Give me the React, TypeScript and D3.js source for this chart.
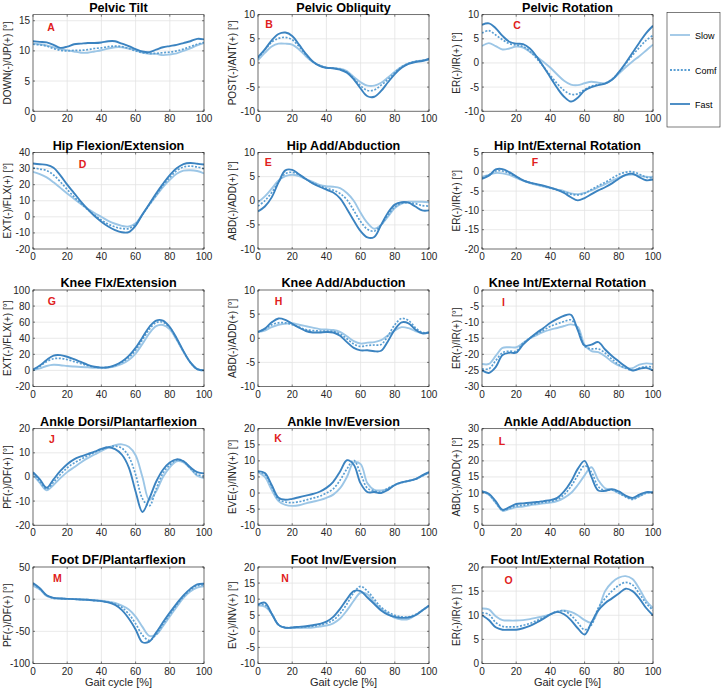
import React from "react";
import * as d3 from "d3";

const X = [0, 4, 8, 12, 16, 20, 24, 28, 32, 36, 40, 44, 48, 52, 56, 60, 64, 68, 72, 76, 80, 84, 88, 92, 96, 100];
const X_TICKS = [0, 20, 40, 60, 80, 100];
const LEGEND = ["Slow", "Comf", "Fast"];

// A Pelvic Tilt
const A_SLOW = [11.2, 11.1, 10.9, 10.6, 10.3, 10.1, 9.9, 9.7, 9.7, 9.9, 10.1, 10.4, 10.6, 10.6, 10.4, 10.1, 9.7, 9.5, 9.5, 9.3, 9.4, 9.6, 10.0, 10.4, 10.9, 11.3];
const A_COMF = [11.1, 11.0, 10.8, 10.4, 10.1, 10.0, 10.1, 10.1, 10.2, 10.4, 10.5, 10.7, 10.8, 10.7, 10.4, 10.0, 9.7, 9.6, 9.6, 9.7, 9.8, 10.0, 10.3, 10.7, 11.1, 11.4];
const A_FAST = [11.6, 11.5, 11.4, 11.0, 10.5, 10.7, 11.1, 11.2, 11.3, 11.3, 11.4, 11.6, 11.6, 11.2, 10.8, 10.3, 9.9, 9.8, 10.2, 10.6, 10.8, 11.0, 11.3, 11.6, 12.0, 11.9];
// B Pelvic Obliquity
const B_SLOW = [0.6, 2.1, 3.4, 4.0, 4.0, 3.8, 2.8, 1.4, 0.2, -0.5, -1.0, -1.1, -1.2, -1.7, -2.9, -4.0, -4.7, -4.7, -4.1, -3.0, -1.8, -0.8, -0.1, 0.3, 0.5, 0.6];
const B_COMF = [1.0, 2.7, 4.3, 5.1, 5.3, 4.8, 3.4, 1.7, 0.3, -0.5, -1.0, -1.1, -1.3, -1.9, -3.2, -4.7, -5.7, -5.6, -4.6, -3.4, -2.0, -0.8, -0.1, 0.3, 0.5, 0.7];
const B_FAST = [1.2, 2.8, 4.7, 6.0, 6.3, 5.6, 3.8, 1.9, 0.3, -0.6, -1.0, -1.1, -1.4, -2.0, -3.4, -5.3, -6.9, -7.0, -5.8, -4.0, -2.3, -1.0, -0.2, 0.2, 0.4, 0.9];
// C Pelvic Rotation
const C_SLOW = [3.5, 4.1, 3.5, 2.8, 3.0, 3.4, 3.2, 2.3, 1.3, 0.2, -1.0, -2.4, -3.7, -4.5, -4.6, -4.2, -3.9, -4.1, -4.2, -3.5, -2.2, -0.9, 0.3, 1.4, 2.6, 3.8];
const C_COMF = [6.2, 6.7, 5.8, 4.8, 4.0, 3.7, 3.4, 2.4, 0.9, -0.8, -2.6, -4.3, -5.7, -6.5, -6.4, -5.5, -4.8, -4.5, -4.2, -3.4, -2.0, -0.2, 1.6, 3.2, 4.7, 5.7];
const C_FAST = [7.9, 8.2, 7.2, 5.6, 4.4, 4.0, 3.9, 3.0, 1.3, -0.8, -3.0, -5.2, -7.0, -8.0, -7.2, -5.7, -5.0, -4.6, -4.3, -3.5, -1.9, 0.0, 2.1, 4.2, 6.2, 7.7];
// D Hip Flexion/Extension
const D_SLOW = [28, 26.5, 24.5, 21.5, 18, 14.5, 11.3, 8, 5, 2.4, 0, -2.5, -4.3, -5.6, -6, -4, 1.5, 7.5, 13, 18.5, 23, 26.8, 28.7, 29, 28.5, 27];
const D_COMF = [30.5, 29.7, 28.8, 26, 21.8, 17, 12.5, 8.3, 4.5, 1.2, -2, -4.5, -6.3, -7.3, -7.3, -4.5, 1.5, 7.5, 13.5, 19.5, 24.5, 28.7, 31, 31.5, 31, 30];
const D_FAST = [33.2, 32.7, 32.3, 30.5, 25.8, 20, 14.8, 9.5, 4.8, 0.5, -3, -6, -8.2, -9.6, -9.5, -5.5, 1.5, 8, 14.5, 20.5, 26, 30.2, 32.8, 33.5, 33, 32.5];
// E Hip Add/Abduction
const E_SLOW = [-0.3, 0.9, 2.5, 4.2, 5.1, 5.4, 5.1, 4.5, 3.9, 3.3, 3.0, 2.9, 2.6, 1.6, 0, -2.5, -4.6, -5.8, -5.0, -3.3, -1.5, -0.6, -0.2, -0.2, -0.2, -0.3];
const E_COMF = [-1.1, 0, 1.7, 3.9, 5.6, 5.9, 5.4, 4.5, 3.7, 3.1, 2.6, 2.2, 1.5, 0.2, -2, -4.3, -5.9, -6.3, -5, -3, -1.3, -0.5, -0.4, -0.6, -1, -1.1];
const E_FAST = [-2.2, -1.2, 0.7, 3.8, 6.3, 6.4, 5.5, 4.5, 3.6, 2.9, 2.3, 1.7, 0.5, -1.7, -4.1, -6.3, -7.6, -7.5, -5, -2.5, -0.8, -0.3, -0.4, -1.2, -2, -2];
// F Hip Int/External Rotation
const F_SLOW = [-1.3, -0.8, -0.3, -0.4, -0.8, -1.6, -2.3, -2.9, -3.4, -3.8, -4.2, -4.6, -5.0, -5.6, -5.8, -5.5, -4.8, -4.0, -3.2, -2.3, -1.5, -0.9, -0.7, -1.0, -1.3, -1.3];
const F_COMF = [-1.6, -0.8, 0.2, 0.2, -0.4, -1.3, -2.2, -2.8, -3.3, -3.7, -4.2, -4.7, -5.2, -5.8, -6.0, -5.6, -4.6, -3.6, -2.7, -1.7, -0.7, -0.1, 0.0, -0.6, -1.4, -1.6];
const F_FAST = [-1.8, -1.0, 0.6, 0.7, -0.1, -1.2, -2.2, -2.8, -3.2, -3.6, -4.1, -4.7, -5.5, -6.6, -7.4, -6.8, -5.8, -4.8, -4.0, -3.0, -1.8, -0.8, -0.5, -1.4, -2.2, -2.0];
// G Knee Flx/Extension
const G_SLOW = [0, 2.5, 5.5, 7, 6.5, 5.5, 4.8, 4.2, 3.8, 3.4, 3.2, 3.5, 5, 8, 13, 21, 33, 46, 55, 56.5, 51, 38, 23, 10, 2, 0];
const G_COMF = [0.5, 5, 11, 14.5, 15, 13.5, 11, 8.5, 6, 4.2, 3.5, 4, 6, 10, 16, 25, 38, 51, 59.5, 60, 53, 39, 23.5, 10, 1.5, 0];
const G_FAST = [1, 6, 13, 18.5, 19, 17, 14, 10.5, 7, 4.5, 3.5, 4, 6.5, 11, 18, 28, 41, 54, 62, 62, 54, 40, 24, 10, 1.5, 0];
// H Knee Add/Abduction
const H_SLOW = [1.3, 1.6, 2.3, 2.8, 3.0, 3.1, 2.8, 2.5, 2.2, 1.9, 1.8, 1.7, 1.3, 0.4, -0.6, -1.1, -0.9, -0.8, -0.4, 0.6, 1.6, 2.3, 2.1, 1.5, 1.1, 1.2];
const H_COMF = [1.3, 1.9, 2.8, 3.2, 3.2, 2.8, 2.3, 1.8, 1.6, 1.5, 1.5, 1.4, 0.9, -0.1, -1.2, -1.7, -1.5, -1.4, -1.3, 0.5, 2.8, 4.1, 3.7, 2.2, 1.2, 1.2];
const H_FAST = [1.3, 2.0, 3.3, 4.1, 3.8, 3.0, 2.2, 1.5, 1.2, 1.2, 1.3, 1.2, 0.5, -0.8, -2.0, -2.5, -2.5, -2.7, -2.6, -0.6, 1.8, 3.3, 3.1, 1.8, 1.0, 1.2];
// I Knee Int/External Rotation
const I_SLOW = [-23, -23, -20.5, -18, -17.8, -17.8, -16.5, -15, -14, -13, -12.3, -11.8, -11.2, -10.7, -11.5, -17, -19, -19.3, -20.6, -22.3, -23.5, -24.3, -24.3, -23.2, -22.8, -23];
const I_COMF = [-24.5, -24.5, -22, -19.5, -19, -19, -16.5, -15, -13.7, -12.5, -11.3, -10.5, -9.8, -9.3, -12, -17.5, -18.3, -18.3, -19.6, -21.5, -23.2, -24.3, -25, -24.3, -23.8, -24];
const I_FAST = [-25, -25.8, -24, -20.2, -19.5, -19.5, -17, -15, -13.3, -11.8, -10.2, -9, -8, -7.7, -12.5, -17.3, -17, -16.2, -18.5, -20.5, -22.2, -23.8, -25, -24.5, -24.2, -25];
// J Ankle Dorsi/Plantarflexion
const J_SLOW = [1, -2.5, -5.5, -3.3, -0.5, 2, 4, 6, 7.8, 9.3, 10.8, 12.2, 13.2, 13.5, 12.5, 9, 0, -9.5, -6, 0, 4, 6.5, 6, 3.5, 0.5, -0.5];
const J_COMF = [1.5, -2, -5, -2.2, 1, 3.8, 5.8, 7.3, 8.8, 10.2, 11.4, 12.4, 12.8, 11.9, 8.5, 1, -9, -12, -5, 1.5, 5, 7, 6.5, 3.5, 1, 0.5];
const J_FAST = [2, -1, -4.5, -1, 2.5, 5.3, 7.3, 8.5, 9.5, 10.5, 11.6, 12.3, 11.5, 9.2, 4, -6, -14.5, -9, -2, 3, 6, 7.3, 6.5, 4, 2, 1.5];
// K Ankle Inv/Eversion
const K_SLOW = [6.5, 5, 1, -2.5, -3.7, -4, -3.8, -3.2, -2.7, -2.2, -1.5, -0.5, 1.5, 5, 9.5, 9, 3, 1, 0.8, 1.3, 2.5, 3.3, 3.7, 4.3, 5.3, 6.3];
const K_COMF = [6.6, 5.8, 2, -2, -2.8, -3, -2.7, -2.2, -1.6, -1, 0, 1.3, 4, 7.5, 10.2, 6, 1.5, 0.7, 0.3, 1.5, 2.5, 3.2, 3.8, 4.3, 5.3, 6.5];
const K_FAST = [6.8, 6.2, 2.5, -1.5, -2.1, -1.8, -1.3, -0.8, -0.3, 0.4, 1.6, 3.5, 6.7, 10.2, 8.8, 3, 0.3, 0.3, 0, 1, 2.5, 3.3, 3.8, 4.3, 5.5, 6.5];
// L Ankle Add/Abduction
const L_SLOW = [10.5, 9.5, 7, 4.5, 5, 5.6, 5.8, 6.2, 6.5, 6.8, 7, 7.5, 8.5, 10, 12.5, 15.5, 18, 14, 11.5, 11, 10, 9, 8.2, 9, 10, 10.2];
const L_COMF = [10.5, 9.6, 7, 4.6, 5.3, 6, 6.2, 6.5, 6.8, 7.1, 7.4, 8, 9.5, 12, 15.5, 18.5, 16.5, 12, 10.8, 11, 10, 8.8, 8, 9, 10, 10.2];
const L_FAST = [10.5, 9.8, 7.5, 4.8, 5.6, 6.6, 6.8, 7.0, 7.2, 7.5, 7.8, 8.5, 10.5, 13.5, 17.5, 20.0, 15, 10.8, 10.7, 11.2, 10.5, 9.2, 8.5, 9.5, 10.3, 10.2];
// M Foot DF/Plantarflexion
const M_SLOW = [21, 15, 5, 1.5, 1, 0.5, 0, -0.5, -1, -1.5, -2.5, -4, -6, -10, -16, -27, -43, -57, -55, -42, -27, -12, 2, 12, 18, 20];
const M_COMF = [23, 16, 5.5, 1.5, 1, 0.5, 0, -0.5, -1, -2, -3, -4.5, -7.5, -13, -23, -38, -56, -64, -55, -39, -24, -9, 4, 14, 21, 22];
const M_FAST = [25, 17, 6, 2, 1, 0.5, 0, -0.5, -1, -2, -3, -5, -9, -17, -30, -47, -67, -66, -52, -36, -21, -7, 6, 16, 23, 24];
// N Foot Inv/Eversion
const N_SLOW = [8, 7.7, 5.5, 2, 1.1, 1.0, 1.0, 1.1, 1.2, 1.5, 1.8, 2.5, 4, 6.5, 9.5, 12, 11.5, 9, 7, 5.5, 4.2, 3.7, 3.8, 5, 6.5, 7.8];
const N_COMF = [8.2, 8.2, 5.5, 2, 1.2, 1.2, 1.3, 1.4, 1.6, 2, 2.5, 3.5, 5.5, 8.5, 12, 14, 12.5, 10, 7.5, 6, 5, 4.5, 4.5, 5.2, 6.5, 8];
const N_FAST = [8.3, 8.9, 5.5, 2, 1.1, 1.2, 1.4, 1.6, 1.9, 2.3, 3, 4.5, 7, 10, 12.5, 12.5, 10.5, 8.5, 6.5, 5.2, 4.5, 4.2, 4.3, 5, 6.5, 8];
// O Foot Int/External Rotation
const O_SLOW = [11.4, 11.2, 9.8, 9, 8.9, 8.9, 9, 9.2, 9.5, 9.8, 10.2, 10.7, 11, 10.7, 10, 9, 8.5, 11, 15, 16.8, 17.8, 18.1, 17.5, 15.5, 13, 11.5];
const O_COMF = [10.5, 10.2, 8.5, 7.7, 7.6, 7.6, 7.9, 8.3, 8.9, 9.5, 10.2, 10.8, 10.9, 10, 8.5, 7, 8, 11.5, 13.5, 15, 16.2, 16.8, 16.3, 14.5, 12.5, 11];
const O_FAST = [10, 9, 7.5, 7, 7, 7, 7.3, 7.8, 8.5, 9.3, 10.2, 10.7, 10.2, 9, 7.3, 6.0, 8.5, 11, 12.5, 13.5, 14.5, 15.5, 15, 13.5, 11.5, 10];

const PANELS = [
  { title: "Pelvic Tilt", ylabel: "DOWN(-)/UP(+) [°]", letter: "A", lx: 10.5, ly: 12, domain: [0, 16], ticks: [0, 5, 10, 15], s: A_SLOW, c: A_COMF, f: A_FAST },
  { title: "Pelvic Obliquity", ylabel: "POST(-)/ANT(+) [°]", letter: "B", lx: 6.4, ly: 9.5, domain: [-10, 10], ticks: [-10, -5, 0, 5, 10], s: B_SLOW, c: B_COMF, f: B_FAST },
  { title: "Pelvic Rotation", ylabel: "ER(-)/IR(+) [°]", letter: "C", lx: 20.5, ly: 10, domain: [-10, 10], ticks: [-10, -5, 0, 5, 10], s: C_SLOW, c: C_COMF, f: C_FAST },
  { title: "Hip Flexion/Extension", ylabel: "EXT(-)/FLX(+) [°]", letter: "D", lx: 29, ly: 11.5, domain: [-20, 40], ticks: [-20, -10, 0, 10, 20, 30, 40], s: D_SLOW, c: D_COMF, f: D_FAST },
  { title: "Hip Add/Abduction", ylabel: "ABD(-)/ADD(+) [°]", letter: "E", lx: 6, ly: 9.5, domain: [-10, 10], ticks: [-10, -5, 0, 5, 10], s: E_SLOW, c: E_COMF, f: E_FAST },
  { title: "Hip Int/External Rotation", ylabel: "ER(-)/IR(+) [°]", letter: "F", lx: 31, ly: 9.5, domain: [-20, 5], ticks: [-20, -15, -10, -5, 0, 5], s: F_SLOW, c: F_COMF, f: F_FAST },
  { title: "Knee Flx/Extension", ylabel: "EXT(-)/FLX(+) [°]", letter: "G", lx: 11, ly: 11, domain: [-20, 100], ticks: [-20, 0, 20, 40, 60, 80, 100], s: G_SLOW, c: G_COMF, f: G_FAST },
  { title: "Knee Add/Abduction", ylabel: "ABD(-)/ADD(+) [°]", letter: "H", lx: 12, ly: 11, domain: [-10, 10], ticks: [-10, -5, 0, 5, 10], s: H_SLOW, c: H_COMF, f: H_FAST },
  { title: "Knee Int/External Rotation", ylabel: "ER(-)/IR(+) [°]", letter: "I", lx: 12.5, ly: 12, domain: [-30, 0], ticks: [-30, -25, -20, -15, -10, -5, 0], s: I_SLOW, c: I_COMF, f: I_FAST },
  { title: "Ankle Dorsi/Plantarflexion", ylabel: "PF(-)/DF(+) [°]", letter: "J", lx: 11, ly: 10.3, domain: [-20, 20], ticks: [-20, -10, 0, 10, 20], s: J_SLOW, c: J_COMF, f: J_FAST },
  { title: "Ankle Inv/Eversion", ylabel: "EVE(-)/INV(+) [°]", letter: "K", lx: 11.7, ly: 9.3, domain: [-10, 20], ticks: [-10, -5, 0, 5, 10, 15, 20], s: K_SLOW, c: K_COMF, f: K_FAST },
  { title: "Ankle Add/Abduction", ylabel: "ABD(-)/ADD(+) [°]", letter: "L", lx: 11.7, ly: 12.3, domain: [0, 30], ticks: [0, 5, 10, 15, 20, 25, 30], s: L_SLOW, c: L_COMF, f: L_FAST },
  { title: "Foot DF/Plantarflexion", ylabel: "PF(-)/DF(+) [°]", letter: "M", lx: 14.3, ly: 11, domain: [-100, 50], ticks: [-100, -50, 0, 50], s: M_SLOW, c: M_COMF, f: M_FAST },
  { title: "Foot Inv/Eversion", ylabel: "EV(-)/INV(+) [°]", letter: "N", lx: 15.8, ly: 11, domain: [-10, 20], ticks: [-10, -5, 0, 5, 10, 15, 20], s: N_SLOW, c: N_COMF, f: N_FAST },
  { title: "Foot Int/External Rotation", ylabel: "ER(-)/IR(+) [°]", letter: "O", lx: 15.5, ly: 13, domain: [0, 20], ticks: [0, 5, 10, 15, 20], s: O_SLOW, c: O_COMF, f: O_FAST },
];

const COL_X = [33, 258, 482];
const ROW_Y = [14.7, 152.5, 290, 428.7, 567];
const PW = 171;
const PH = 96.5;
const FONT = "'Liberation Sans', Arial, Helvetica, sans-serif";
const COLOR_SLOW = "#9cc6e6";
const COLOR_COMF = "#5b9fd3";
const COLOR_FAST = "#3b83c0";
const AXIS_COL = "#262626";
const GRID_COL = "#e3e3e3";
const DASH = "2,1.6";

function Panel({ p, idx }: { p: any; idx: number }) {
  const col = idx % 3;
  const row = Math.floor(idx / 3);
  const x0 = COL_X[col];
  const y0 = ROW_Y[row];
  const xs = d3.scaleLinear().domain([0, 100]).range([x0, x0 + PW]);
  const ys = d3.scaleLinear().domain(p.domain).range([y0 + PH, y0]);
  const line = d3
    .line<number>()
    .x((_, i) => xs(X[i]))
    .y((d) => ys(d))
    .curve(d3.curveCatmullRom.alpha(0.5));
  const clipId = `clip${idx}`;
  const series = [
    { vals: p.s, color: COLOR_SLOW, dash: undefined, w: 1.9 },
    { vals: p.c, color: COLOR_COMF, dash: DASH, w: 1.7 },
    { vals: p.f, color: COLOR_FAST, dash: undefined, w: 1.9 },
  ];
  return (
    <g>
      <defs>
        <clipPath id={clipId}>
          <rect x={x0} y={y0} width={PW} height={PH} />
        </clipPath>
      </defs>
      <rect x={x0} y={y0} width={PW} height={PH} fill="#fff" />
      {X_TICKS.map((t) => (
        <line key={"gx" + t} x1={xs(t)} x2={xs(t)} y1={y0} y2={y0 + PH} stroke={GRID_COL} strokeWidth={0.8} />
      ))}
      {p.ticks.map((t: number) => (
        <line key={"gy" + t} x1={x0} x2={x0 + PW} y1={ys(t)} y2={ys(t)} stroke={GRID_COL} strokeWidth={0.8} />
      ))}
      <g clipPath={`url(#${clipId})`}>
        {series.map((s, i) => (
          <path
            key={i}
            d={line(s.vals) || ""}
            fill="none"
            stroke={s.color}
            strokeWidth={s.w}
            strokeDasharray={s.dash}
            strokeLinejoin="round"
          />
        ))}
      </g>
      <rect x={x0} y={y0} width={PW} height={PH} fill="none" stroke={AXIS_COL} strokeWidth={0.6} />
      {X_TICKS.map((t) => (
        <g key={"tx" + t}>
          <line x1={xs(t)} x2={xs(t)} y1={y0 + PH} y2={y0 + PH - 2} stroke={AXIS_COL} strokeWidth={0.6} />
          <line x1={xs(t)} x2={xs(t)} y1={y0} y2={y0 + 2} stroke={AXIS_COL} strokeWidth={0.6} />
          <text x={xs(t)} y={y0 + PH + 11} textAnchor="middle" fontSize={10} fill={AXIS_COL} fontFamily={FONT}>
            {t}
          </text>
        </g>
      ))}
      {p.ticks.map((t: number) => (
        <g key={"ty" + t}>
          <line x1={x0} x2={x0 + 2} y1={ys(t)} y2={ys(t)} stroke={AXIS_COL} strokeWidth={0.6} />
          <line x1={x0 + PW} x2={x0 + PW - 2} y1={ys(t)} y2={ys(t)} stroke={AXIS_COL} strokeWidth={0.6} />
          <text x={x0 - 3} y={ys(t) + 3.5} textAnchor="end" fontSize={10} fill={AXIS_COL} fontFamily={FONT}>
            {t}
          </text>
        </g>
      ))}
      <text x={x0 + PW / 2} y={y0 - 3} textAnchor="middle" fontSize={12.6} fontWeight="bold" fill="#000" fontFamily={FONT}>
        {p.title}
      </text>
      <text
        transform={`translate(${x0 - 22},${y0 + PH / 2}) rotate(-90)`}
        textAnchor="middle"
        fontSize={10}
        fill={AXIS_COL}
        fontFamily={FONT}
      >
        {p.ylabel}
      </text>
      <text x={xs(p.lx)} y={y0 + p.ly + 3.8} textAnchor="middle" fontSize={10.5} fontWeight="bold" fill="#e02020" fontFamily={FONT}>
        {p.letter}
      </text>
    </g>
  );
}

export default function App() {
  const legendColors = [COLOR_SLOW, COLOR_COMF, COLOR_FAST];
  const legendY = [35, 70, 104];
  return (
    <svg width={722} height={689} style={{ position: "absolute", left: 0, top: 0, background: "#fff" }}>
      <rect x={0} y={0} width={722} height={689} fill="#fff" />
      {PANELS.map((p, i) => (
        <Panel key={i} p={p} idx={i} />
      ))}
      {[0, 1, 2].map((c) => (
        <text key={"xl" + c} x={COL_X[c] + PW / 2} y={686} textAnchor="middle" fontSize={11} fill={AXIS_COL} fontFamily={FONT}>
          Gait cycle [%]
        </text>
      ))}
      <rect x={667} y={12.5} width={53} height={114.5} fill="#fff" stroke={AXIS_COL} strokeWidth={0.6} />
      {LEGEND.map((name, i) => (
        <g key={name}>
          <line
            x1={670}
            x2={690}
            y1={legendY[i]}
            y2={legendY[i]}
            stroke={legendColors[i]}
            strokeWidth={1.8}
            strokeDasharray={i === 1 ? DASH : undefined}
          />
          <text x={695} y={legendY[i] + 3.5} fontSize={9} fill="#000" fontFamily={FONT}>
            {name}
          </text>
        </g>
      ))}
    </svg>
  );
}
